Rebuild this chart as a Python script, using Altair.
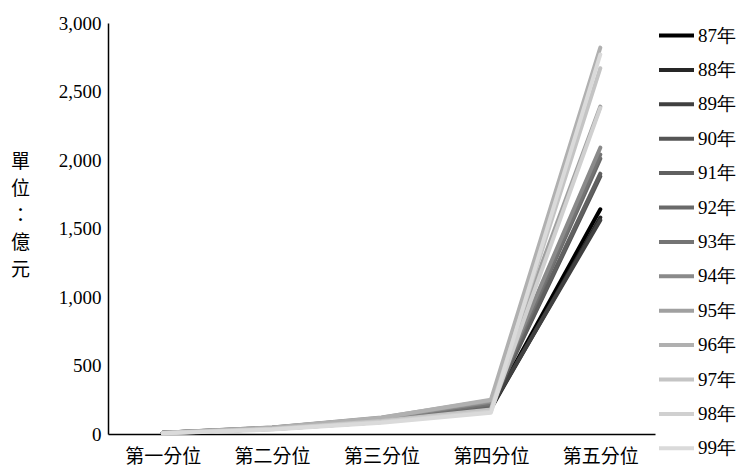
import altair as alt
import pandas as pd

# Quintile categories on the x axis
quintiles = ["第一分位", "第二分位", "第三分位", "第四分位", "第五分位"]

# Years (series) and their line colours, dark to light
years = ["87年", "88年", "89年", "90年", "91年", "92年", "93年",
         "94年", "95年", "96年", "97年", "98年", "99年"]
colors = ["#000000", "#262626", "#404040", "#555555", "#606060", "#6a6a6a",
          "#747474", "#8a8a8a", "#a0a0a0", "#b0b0b0", "#c4c4c4", "#d0d0d0",
          "#dadada"]

# Amount per quintile (億元), one list per quintile, ordered by year
q1 = [8, 8, 8, 9, 9, 9, 10, 10, 10, 9, 7, 6, 5]
q2 = [38, 37, 39, 41, 42, 43, 45, 47, 48, 46, 38, 35, 32]
q3 = [90, 88, 92, 96, 100, 104, 108, 115, 120, 118, 95, 88, 82]
q4 = [190, 185, 195, 205, 210, 215, 222, 235, 245, 250, 178, 165, 155]
q5 = [1640, 1580, 1560, 1880, 1900, 2010, 2040, 2090, 2390, 2820, 2670, 2380, 2770]

rows = []
for qname, vals in zip(quintiles, [q1, q2, q3, q4, q5]):
    for y, v in zip(years, vals):
        rows.append({"分位": qname, "年": y, "金額": v})
df = pd.DataFrame(rows)

serif = "Liberation Serif"
cjk = "Noto Sans CJK TC"

chart = alt.Chart(df).mark_line(strokeWidth=4, strokeCap="round", strokeJoin="round").encode(
    x=alt.X("分位:N", sort=quintiles, title=None,
            axis=alt.Axis(labelAngle=0, labelFont=cjk, labelFontSize=19,
                          labelColor="#000", labelPadding=13, ticks=False,
                          domainColor="#000", domainWidth=1.5)),
    y=alt.Y("金額:Q", scale=alt.Scale(domain=[0, 3000], nice=False),
            title=["單", "位", "：", "億", "元"],
            axis=alt.Axis(values=[0, 500, 1000, 1500, 2000, 2500, 3000],
                          format=",.0f", grid=False, ticks=False, labelPadding=7,
                          labelFont=serif, labelFontSize=19, labelColor="#000",
                          domainColor="#000", domainWidth=1.5,
                          titleAngle=0, titleFont=cjk, titleFontSize=19,
                          titleFontWeight="normal", titleColor="#000",
                          titleLineHeight=27, titleAlign="center",
                          titleBaseline="top", titleX=-88, titleY=129)),
    color=alt.Color("年:N", sort=years,
                    scale=alt.Scale(domain=years, range=colors),
                    legend=alt.Legend(title=None, orient="none", legendX=549,
                                      legendY=-7, symbolType="stroke",
                                      symbolSize=1225, symbolStrokeWidth=4,
                                      labelFont=serif, labelFontSize=19,
                                      labelColor="#000", labelOffset=2,
                                      rowPadding=4.4, padding=0)),
    order=alt.Order("年:N"),
).properties(
    width=547,
    height=411,
    autosize=alt.AutoSizeParams(type="none"),
    padding={"left": 108, "top": 23, "right": 93, "bottom": 33},
).configure_view(stroke=None)

chart.save("out.html", embed_options={"renderer": "svg", "actions": False})
